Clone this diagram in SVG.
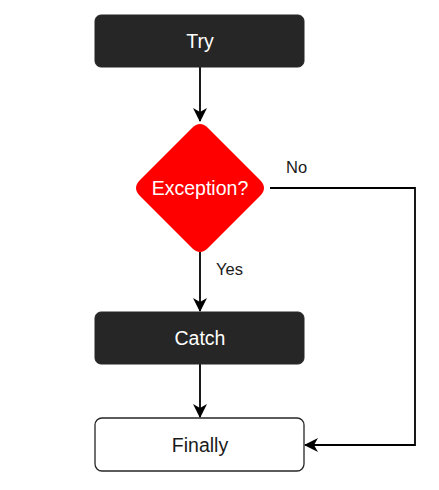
<svg xmlns="http://www.w3.org/2000/svg" width="439" height="490" viewBox="0 0 439 490">
<style>
.dark{fill:#262626;stroke:#262626;stroke-width:1}
.light{fill:#ffffff;stroke:#262626;stroke-width:1.3}
.t{font-family:"Liberation Sans",Arial,sans-serif;font-size:19.5px;text-anchor:middle;dominant-baseline:central}
.w{fill:#ffffff}
.b{fill:#1a1a1a}
.lbl{font-family:"Liberation Sans",Arial,sans-serif;font-size:16.5px;fill:#1a1a1a}
.c{fill:none;stroke:#000;stroke-width:1.8}
</style>
<defs>
<marker id="ah" viewBox="0 0 14 14" refX="13" refY="7" markerWidth="14" markerHeight="14" markerUnits="userSpaceOnUse" orient="auto">
<path d="M0,0 L14,7 L0,14 L4,7 Z" fill="#000"/>
</marker>
</defs>
<g id="connectors">
<path class="c" d="M200,67 V121" marker-end="url(#ah)"/>
<path class="c" d="M200,252 V311" marker-end="url(#ah)"/>
<path class="c" d="M200,364 V417" marker-end="url(#ah)"/>
<path class="c" d="M270,188 H415 V445 H305" marker-end="url(#ah)"/>
<text class="lbl" x="286" y="173">No</text>
<text class="lbl" x="216" y="275">Yes</text>
</g>
<g id="try">
<rect class="dark" x="95" y="15" width="209" height="52" rx="6"/>
<text class="t w" x="200" y="41">Try</text>
</g>
<g id="exception">
<path d="M192,128 Q200,120 208,128 L260,180 Q268,188 260,196 L208,248 Q200,256 192,248 L140,196 Q132,188 140,180 Z" fill="#ff0000"/>
<text class="t w" x="200" y="188">Exception?</text>
</g>
<g id="catch">
<rect class="dark" x="95" y="312" width="209" height="52" rx="6"/>
<text class="t w" x="200" y="338">Catch</text>
</g>
<g id="finally">
<rect class="light" x="95" y="418" width="209" height="53" rx="7"/>
<text class="t b" x="200" y="445">Finally</text>
</g>
</svg>
